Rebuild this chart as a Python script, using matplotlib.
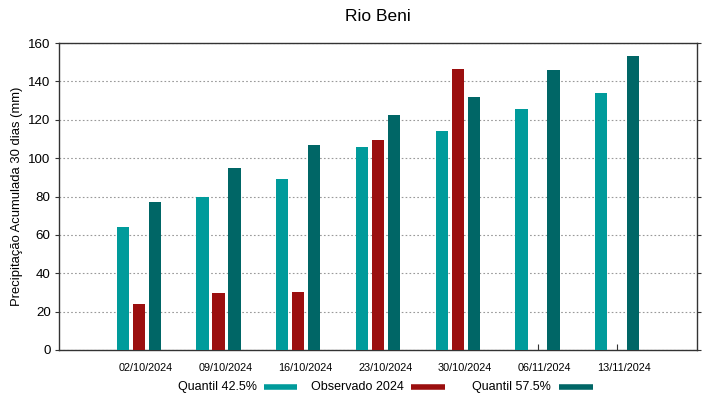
import numpy as np
import matplotlib.pyplot as plt
from matplotlib.lines import Line2D

plt.rcParams['font.family'] = ['Liberation Sans', 'DejaVu Sans']

# data
dates = ['02/10/2024', '09/10/2024', '16/10/2024', '23/10/2024',
         '30/10/2024', '06/11/2024', '13/11/2024']
q425 = [64, 79.5, 89, 106, 114, 125.5, 134]
obs2024 = [24, 29.5, 30, 109.5, 146.5, np.nan, np.nan]
q575 = [77, 95, 107, 122.5, 132, 146, 153]
series_names = ['Quantil 42.5%', 'Observado 2024', 'Quantil 57.5%']

c_q425 = '#009b9b'
c_obs = '#9b0f0f'
c_q575 = '#006666'

fig = plt.figure(figsize=(7.19, 3.99), dpi=100)
ax = fig.add_axes([59/719, 1 - 350/399, (697 - 59)/719, (350 - 43)/399])

x = np.arange(len(dates))
w = 0.155
off = 0.2
ax.bar(x - off, q425, w, color=c_q425, zorder=3)
ax.bar(x, obs2024, w, color=c_obs, zorder=3)
ax.bar(x + off, q575, w, color=c_q575, zorder=3)

ax.set_xlim(-1, 7)
ax.set_ylim(0, 160)
ax.set_yticks(np.arange(0, 161, 20))
# tick marks at the groups, labels a bit to the right (as gnuplot draws them)
ax.set_xticks(x)
ax.set_xticklabels([])
ax.set_xticks(x + 0.09, minor=True)
ax.set_xticklabels(dates, minor=True, fontsize=7.8)

ax.tick_params(axis='y', direction='out', length=3, width=0.8, labelsize=9.6,
               pad=3, right=True, colors='#333333', labelcolor='black')
ax.tick_params(axis='x', which='major', direction='in', length=4, width=0.8,
               colors='#333333')
ax.tick_params(axis='x', which='minor', length=0, pad=9.5, labelcolor='black')
ax.grid(axis='y', linestyle=(0, (1.5, 2)), color='#999999', linewidth=0.8, zorder=1)
for s in ax.spines.values():
    s.set_color('#333333')
    s.set_linewidth(1.0)

ax.set_title('Rio Beni', fontsize=12.5, pad=16)
ax.set_ylabel('Precipitação Acumulada 30 dias (mm)', fontsize=9.4, labelpad=4)

# legend below the plot, gnuplot style: text then sample
text_right = [257, 404, 551]
swatch = [(264, 297), (411, 445), (559, 593)]
ly = 1 - 387/399
for name, c, xr, (s0, s1) in zip(series_names, (c_q425, c_obs, c_q575), text_right, swatch):
    fig.text(xr/719, ly, name, ha='right', va='center', fontsize=9)
    fig.add_artist(Line2D([s0/719, s1/719], [ly, ly], transform=fig.transFigure,
                          color=c, lw=4, solid_capstyle='butt'))

fig.savefig('out.png', dpi=100)
